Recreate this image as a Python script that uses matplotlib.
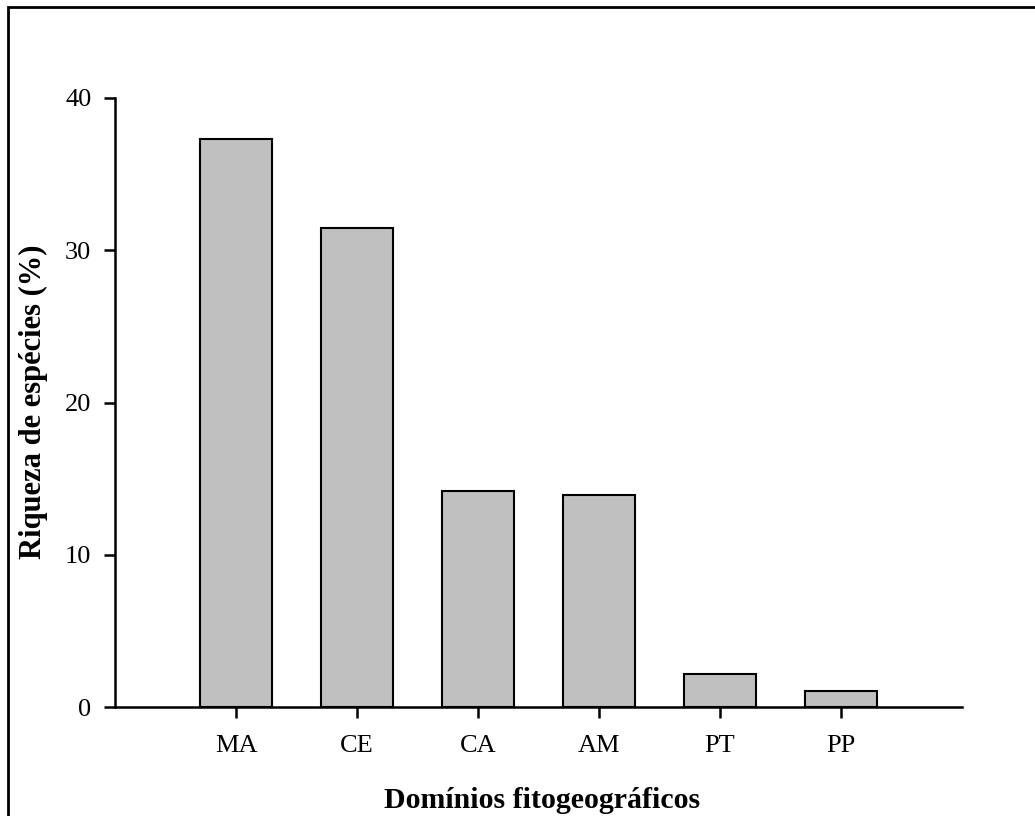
import numpy as np
import matplotlib.pyplot as plt
from matplotlib.patches import Rectangle

plt.rcParams['font.family'] = ['Liberation Serif', 'DejaVu Serif']

dominios = ['MA', 'CE', 'CA', 'AM', 'PT', 'PP']
riqueza = [37.3, 31.45, 14.2, 13.9, 2.2, 1.05]

fig = plt.figure(figsize=(10.35, 8.16), dpi=100)
ax = fig.add_axes([115 / 1035, 1 - 707 / 816, (962 - 115) / 1035, (707 - 98) / 816])

x = np.arange(len(dominios))
ax.bar(x, riqueza, width=0.6, color='#c0c0c0', edgecolor='black', linewidth=1.5, zorder=2)

ax.set_xlim(-1, 6)
ax.set_ylim(0, 40)
ax.set_xticks(x)
ax.set_xticklabels(dominios)
ax.set_yticks([0, 10, 20, 30, 40])

for s in ['top', 'right']:
    ax.spines[s].set_visible(False)
for s in ['left', 'bottom']:
    ax.spines[s].set_linewidth(1.8)

ax.tick_params(axis='both', direction='out', length=8, width=1.8, labelsize=19)
ax.tick_params(axis='y', pad=9)
ax.tick_params(axis='x', pad=12)

fig.text(33 / 1035, 1 - 402 / 816, 'Riqueza de espécies (%)', rotation=90,
         ha='center', va='center', fontsize=22, fontweight='bold')
fig.text(542 / 1035, 1 - 800 / 816, 'Domínios fitogeográficos',
         ha='center', va='center', fontsize=21.5, fontweight='bold')

# outer frame (only left and top edges fall inside the image)
fig.patches.append(Rectangle((8 / 1035, -0.1), 1.2, 1 - 7 / 816 + 0.1,
                             transform=fig.transFigure, fill=False,
                             edgecolor='black', linewidth=2))

fig.savefig('out.png', dpi=100)
